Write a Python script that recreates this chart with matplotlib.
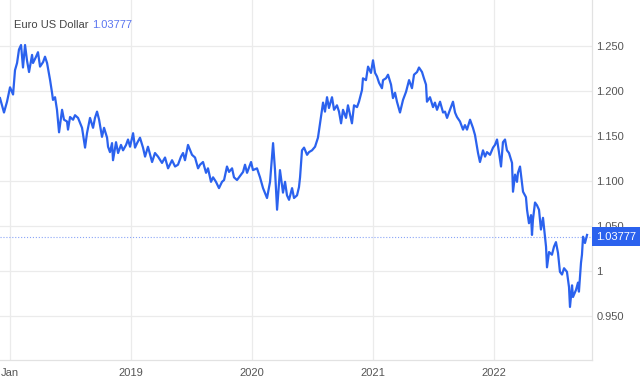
import matplotlib.pyplot as plt

# decimal year of each point
years = [
    2017.917, 2017.950, 2017.975, 2018.000, 2018.025, 2018.041, 2018.058, 2018.074,
    2018.091, 2018.107, 2018.124, 2018.140, 2018.157, 2018.182, 2018.190, 2018.215,
    2018.231, 2018.248, 2018.273, 2018.289, 2018.306, 2018.331, 2018.347, 2018.355,
    2018.372, 2018.388, 2018.405, 2018.430, 2018.446, 2018.471, 2018.479, 2018.496,
    2018.521, 2018.537, 2018.562, 2018.595, 2018.620, 2018.636, 2018.661, 2018.686,
    2018.702, 2018.719, 2018.736, 2018.760, 2018.777, 2018.802, 2018.810, 2018.826,
    2018.843, 2018.851, 2018.876, 2018.893, 2018.917, 2018.934, 2018.959, 2018.975,
    2018.992, 2019.017, 2019.033, 2019.050, 2019.074, 2019.099, 2019.116, 2019.140,
    2019.174, 2019.198, 2019.223, 2019.256, 2019.281, 2019.306, 2019.339, 2019.364,
    2019.388, 2019.413, 2019.430, 2019.446, 2019.471, 2019.504, 2019.529, 2019.554,
    2019.570, 2019.595, 2019.620, 2019.636, 2019.661, 2019.678, 2019.702, 2019.727,
    2019.752, 2019.769, 2019.793, 2019.810, 2019.835, 2019.851, 2019.876, 2019.893,
    2019.926, 2019.942, 2019.959, 2019.992, 2020.008, 2020.041, 2020.066, 2020.091,
    2020.124, 2020.149, 2020.174, 2020.190, 2020.207, 2020.231, 2020.256, 2020.273,
    2020.289, 2020.306, 2020.331, 2020.347, 2020.372, 2020.388, 2020.397, 2020.413,
    2020.430, 2020.455, 2020.471, 2020.496, 2020.521, 2020.545, 2020.570, 2020.587,
    2020.603, 2020.620, 2020.636, 2020.661, 2020.678, 2020.702, 2020.719, 2020.736,
    2020.752, 2020.777, 2020.793, 2020.826, 2020.843, 2020.868, 2020.884, 2020.909,
    2020.917, 2020.942, 2020.959, 2020.983, 2021.000, 2021.017, 2021.033, 2021.050,
    2021.074, 2021.083, 2021.107, 2021.124, 2021.149, 2021.165, 2021.182, 2021.198,
    2021.223, 2021.248, 2021.273, 2021.298, 2021.322, 2021.339, 2021.364, 2021.380,
    2021.405, 2021.421, 2021.438, 2021.446, 2021.471, 2021.496, 2021.512, 2021.529,
    2021.554, 2021.579, 2021.595, 2021.612, 2021.636, 2021.661, 2021.678, 2021.694,
    2021.719, 2021.744, 2021.760, 2021.777, 2021.802, 2021.826, 2021.843, 2021.860,
    2021.868, 2021.884, 2021.909, 2021.926, 2021.942, 2021.967, 2021.992, 2022.008,
    2022.025, 2022.041, 2022.058, 2022.074, 2022.091, 2022.107, 2022.124, 2022.149,
    2022.157, 2022.174, 2022.190, 2022.198, 2022.215, 2022.231, 2022.240, 2022.264,
    2022.273, 2022.289, 2022.306, 2022.314, 2022.322, 2022.339, 2022.355, 2022.372,
    2022.388, 2022.405, 2022.413, 2022.430, 2022.438, 2022.455, 2022.479, 2022.496,
    2022.512, 2022.529, 2022.545, 2022.562, 2022.579, 2022.603, 2022.620, 2022.628,
    2022.645, 2022.653, 2022.678, 2022.694, 2022.702, 2022.719, 2022.727, 2022.736,
    2022.752, 2022.769,
]

rates = [
    1.192, 1.176, 1.188, 1.204, 1.196, 1.223, 1.231, 1.246,
    1.251, 1.226, 1.251, 1.234, 1.221, 1.240, 1.231, 1.238,
    1.243, 1.227, 1.232, 1.238, 1.231, 1.212, 1.198, 1.190,
    1.193, 1.179, 1.154, 1.179, 1.168, 1.166, 1.157, 1.171,
    1.168, 1.173, 1.170, 1.159, 1.137, 1.153, 1.170, 1.159,
    1.170, 1.177, 1.168, 1.149, 1.159, 1.148, 1.138, 1.132,
    1.142, 1.123, 1.143, 1.131, 1.140, 1.134, 1.140, 1.146,
    1.138, 1.153, 1.137, 1.142, 1.148, 1.137, 1.127, 1.138,
    1.121, 1.131, 1.127, 1.120, 1.126, 1.114, 1.123, 1.116,
    1.118, 1.127, 1.131, 1.123, 1.140, 1.129, 1.126, 1.114,
    1.118, 1.121, 1.109, 1.114, 1.099, 1.104, 1.099, 1.092,
    1.099, 1.101, 1.116, 1.110, 1.114, 1.104, 1.101, 1.104,
    1.110, 1.118, 1.109, 1.121, 1.112, 1.114, 1.104, 1.092,
    1.081, 1.099, 1.142, 1.112, 1.068, 1.112, 1.087, 1.099,
    1.084, 1.079, 1.092, 1.081, 1.084, 1.093, 1.104, 1.134,
    1.137, 1.129, 1.132, 1.134, 1.138, 1.148, 1.171, 1.187,
    1.177, 1.193, 1.181, 1.193, 1.179, 1.184, 1.177, 1.164,
    1.179, 1.170, 1.184, 1.164, 1.184, 1.182, 1.188, 1.201,
    1.214, 1.212, 1.227, 1.220, 1.234, 1.220, 1.216, 1.209,
    1.203, 1.212, 1.214, 1.218, 1.207, 1.192, 1.198, 1.188,
    1.176, 1.190, 1.199, 1.212, 1.203, 1.218, 1.221, 1.226,
    1.221, 1.214, 1.207, 1.188, 1.193, 1.182, 1.187, 1.179,
    1.188, 1.176, 1.177, 1.170, 1.179, 1.188, 1.176, 1.171,
    1.166, 1.157, 1.162, 1.157, 1.168, 1.159, 1.151, 1.137,
    1.131, 1.121, 1.134, 1.127, 1.132, 1.129, 1.137, 1.140,
    1.146, 1.132, 1.116, 1.143, 1.146, 1.134, 1.131, 1.120,
    1.088, 1.107, 1.099, 1.109, 1.116, 1.098, 1.088, 1.082,
    1.068, 1.053, 1.062, 1.040, 1.057, 1.076, 1.073, 1.068,
    1.046, 1.059, 1.049, 1.027, 1.004, 1.021, 1.018, 1.027,
    1.032, 1.020, 0.999, 0.996, 1.003, 0.999, 0.982, 0.960,
    0.984, 0.971, 0.979, 0.987, 0.977, 1.009, 1.018, 1.038,
    1.031, 1.040,
]

last_rate = 1.03777

x_ticks = [2018.0, 2019.0, 2020.0, 2021.0, 2022.0]
x_labels = ["Jan", "2019", "2020", "2021", "2022"]
y_ticks = [0.95, 1.0, 1.05, 1.10, 1.15, 1.20, 1.25]
y_labels = ["0.950", "1", "1.050", "1.100", "1.150", "1.200", "1.250"]

LINE = "#2b62ee"
GRID = "#ebebeb"
TEXT = "#555555"

plt.rcParams["font.family"] = ["Liberation Sans", "DejaVu Sans"]

fig = plt.figure(figsize=(6.4, 3.81), dpi=100)
ax = fig.add_axes([0.0, 0.055, 0.925, 0.945])

ax.plot(years, rates, color=LINE, lw=1.6, solid_joinstyle="round", zorder=3)
ax.axhline(last_rate, color="#8aa5f7", lw=0.8, ls=":", zorder=2)

ax.set_xlim(2017.917, 2022.810)
ax.set_ylim(0.901, 1.301)

ax.set_xticks(x_ticks)
ax.set_xticklabels(x_labels)
ax.set_yticks(y_ticks)
ax.set_yticklabels(y_labels)
ax.yaxis.tick_right()
ax.tick_params(axis="both", length=0, labelsize=8, labelcolor=TEXT)
ax.tick_params(axis="y", pad=3)
ax.tick_params(axis="x", pad=6)
ax.grid(True, color=GRID, lw=0.9)
ax.set_axisbelow(True)

for side in ["top", "left"]:
    ax.spines[side].set_visible(False)
for side in ["right", "bottom"]:
    ax.spines[side].set_color("#e2e2e2")
    ax.spines[side].set_linewidth(0.9)

ax.annotate(f"{last_rate:.5f}", xy=(1.0, last_rate),
            xycoords=("axes fraction", "data"),
            xytext=(3, 0), textcoords="offset points",
            ha="left", va="center", fontsize=8, color="white",
            bbox=dict(boxstyle="square,pad=0.4", fc=LINE, ec="none"),
            annotation_clip=False, zorder=5)

title = fig.text(14 / 640, 1 - 30 / 381, "Euro US Dollar ",
                 fontsize=8, color="#444444", ha="left", va="bottom")
ax.annotate(f"{last_rate:.5f}", xy=(1, 0), xycoords=title,
            fontsize=8, color="#5b76f0", ha="left", va="bottom")

fig.savefig("out.png", dpi=100)
